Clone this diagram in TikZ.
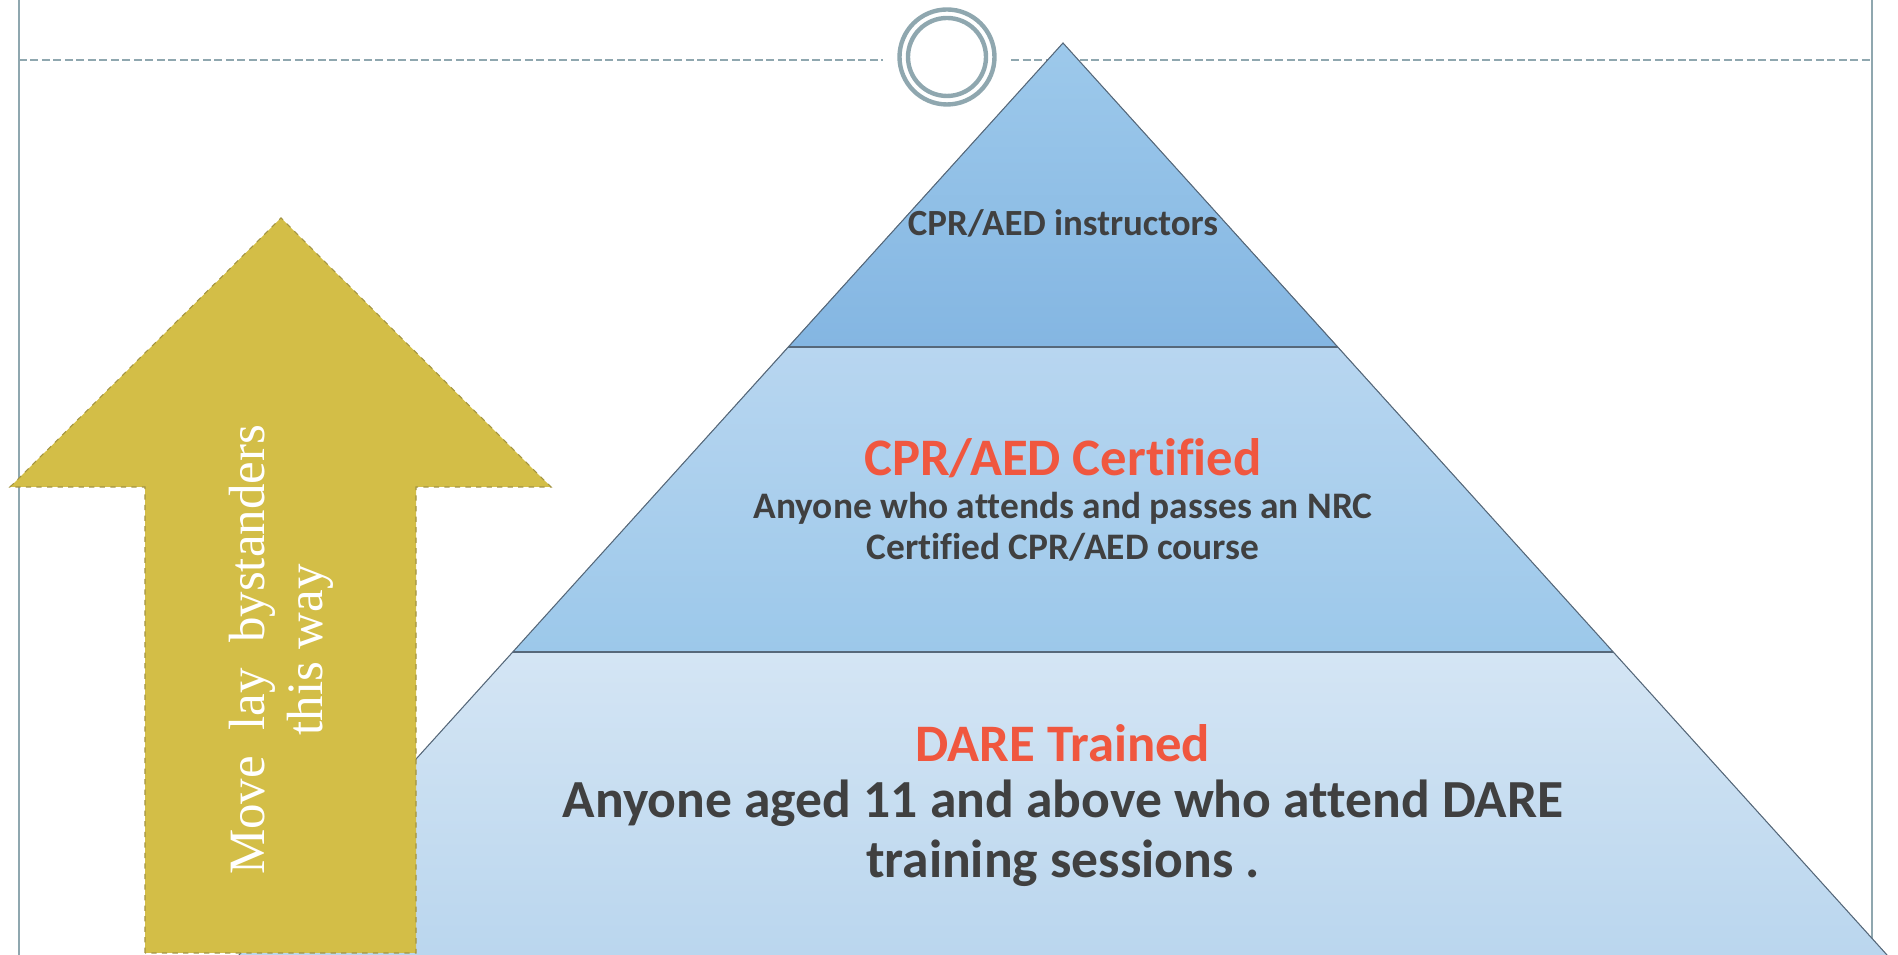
\documentclass[tikz,border=0pt]{standalone}
\usepackage{fontspec}
\setmainfont{Carlito}[Ligatures=NoCommon]
\newfontfamily\arrowfont{Liberation Serif}
\definecolor{framegray}{HTML}{8FA7AF}
\definecolor{edgegray}{HTML}{56687A}
\definecolor{topblueA}{HTML}{9DC9EB}
\definecolor{topblueB}{HTML}{84B6E2}
\definecolor{midblueA}{HTML}{B8D6F0}
\definecolor{midblueB}{HTML}{9CC8EA}
\definecolor{lowblueA}{HTML}{D4E5F4}
\definecolor{lowblueB}{HTML}{BAD6EE}
\definecolor{arrowgold}{HTML}{D3BE47}
\definecolor{arrowedge}{HTML}{A39441}
\definecolor{tiertext}{HTML}{404040}
\definecolor{tierred}{HTML}{F0573F}
\tikzset{
  frameline/.style={draw=framegray,line width=1.1pt},
  tieredge/.style={draw=edgegray,line width=0.6pt},
  tiertitle/.style={text=tierred,font=\bfseries\fontsize{30}{34}\selectfont,align=center},
  tierbody/.style={text=tiertext,align=center}
}
\begin{document}
\begin{tikzpicture}[x=0.02cm,y=0.02cm]
  \useasboundingbox(0,0)rectangle(1898,955);
  % frame
  \draw[frameline](19,0)--(19,955);
  \draw[frameline](1872,955)--(1872,0);
  \draw[frameline,line width=1pt,dash pattern=on 0.16cm off 0.07cm](19,895)--(883,895);
  \draw[frameline,line width=1pt,dash pattern=on 0.16cm off 0.07cm](1011,895)--(1872,895);
  \draw[frameline,line width=2.5pt](947,898)circle(47.5);
  \draw[frameline,line width=2.5pt](947,898)circle(39);
  % pyramid
  \fill[top color=lowblueA,bottom color=lowblueB](513,303)--(1613,303)--(1887,0)--(239,0)--cycle;
  \fill[top color=midblueA,bottom color=midblueB](788,608)--(1338,608)--(1613,303)--(513,303)--cycle;
  \fill[top color=topblueA,bottom color=topblueB](1063,912)--(1338,608)--(788,608)--cycle;
  \draw[tieredge](239,0)--(1063,912)--(1887,0);
  \draw[tieredge](788,608)--(1338,608);
  \draw[tieredge](513,303)--(1613,303);
  % arrow
  \fill[fill=arrowgold,draw=arrowedge,dashed,line width=0.6pt]
  (145,2)--(145,468)--(10,468)--(281,737)--(551,468)--(416,468)--(416,2)--cycle;
  \node[rotate=90,text=white,align=center,font=\arrowfont\fontsize{29}{33}\selectfont](waytext)at(281,305)
  {Move\ \ lay\ \ bystanders\\this way};
  % tier texts
  \node[tierbody,font=\bfseries\fontsize{21}{24}\selectfont](instr)at(1063,732){CPR/AED instructors};
  \node[tiertitle](certtitle)at(1063,497){CPR/AED Certified};
  \node[tierbody,font=\bfseries\fontsize{21.3}{23.6}\selectfont](certbody)at(1063,428)
  {Anyone who attends and passes an NRC\\Certified CPR/AED course};
  \node[tiertitle](daretitle)at(1063,212){DARE Trained};
  \node[tierbody,font=\bfseries\fontsize{30.5}{34}\selectfont](darebody)at(1063,122)
  {Anyone aged 11 and above who attend DARE\\training sessions .};
\end{tikzpicture}
\end{document}
